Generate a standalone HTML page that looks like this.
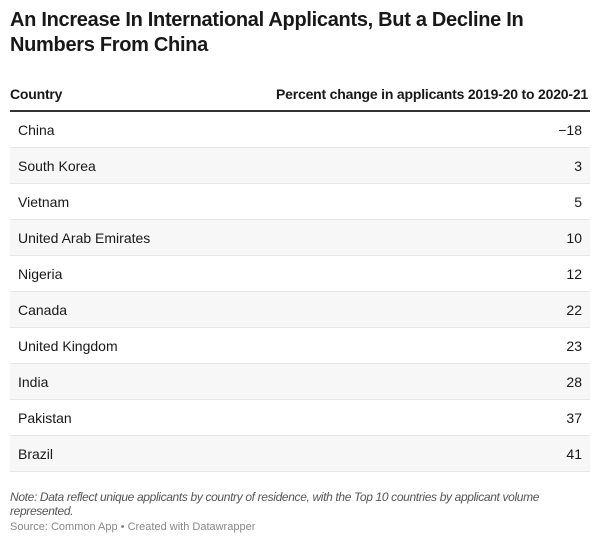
<!DOCTYPE html>
<html><head><meta charset="utf-8"><style>
body{margin:0;width:600px;height:543px;background:#fff;font-family:"Liberation Sans",sans-serif;color:#181818;overflow:hidden}
h1{position:absolute;left:10px;top:8px;margin:0;font-size:20px;line-height:25px;font-weight:bold;width:580px;letter-spacing:-0.3px}
.hdr{position:absolute;left:10px;top:84px;width:580px;height:26px;border-bottom:2px solid #333;font-size:14px;font-weight:bold;letter-spacing:-0.2px}
.hdr span{position:absolute;top:2px}
.tbl{position:absolute;left:10px;top:112px;width:580px}
.row{height:35px;border-bottom:1px solid #e6e6e6;position:relative;font-size:14px}
.row:nth-child(even){background:#f7f7f7}
.row span{position:absolute;top:10px}
.note{position:absolute;left:10px;top:490px;width:590px;font-size:12px;font-style:italic;color:#555;line-height:14px;letter-spacing:-0.35px}
.src{position:absolute;left:10px;top:521px;font-size:11px;line-height:13px;color:#888}
</style></head><body>
<h1>An Increase In International Applicants, But a Decline In Numbers From China</h1>
<div class="hdr"><span style="left:0">Country</span><span style="right:2px">Percent change in applicants 2019-20 to 2020-21</span></div>
<div class="tbl" id="tbl"></div>
<div class="note">Note: Data reflect unique applicants by country of residence, with the Top 10 countries by applicant volume<br>represented.</div>
<div class="src">Source: Common App • Created with Datawrapper</div>
<script>
const countries=["China","South Korea","Vietnam","United Arab Emirates","Nigeria","Canada","United Kingdom","India","Pakistan","Brazil"];
const values=[-18,3,5,10,12,22,23,28,37,41];
const t=document.getElementById('tbl');
countries.forEach((c,i)=>{
const r=document.createElement('div');r.className='row';


const a=document.createElement('span');a.style.left='8px';a.textContent=c;


const b=document.createElement('span');b.style.right='8px';b.textContent=values[i]<0?'\u2212'+Math.abs(values[i]):values[i];


r.appendChild(a);r.appendChild(b);t.appendChild(r);});
</script>
</body></html>
